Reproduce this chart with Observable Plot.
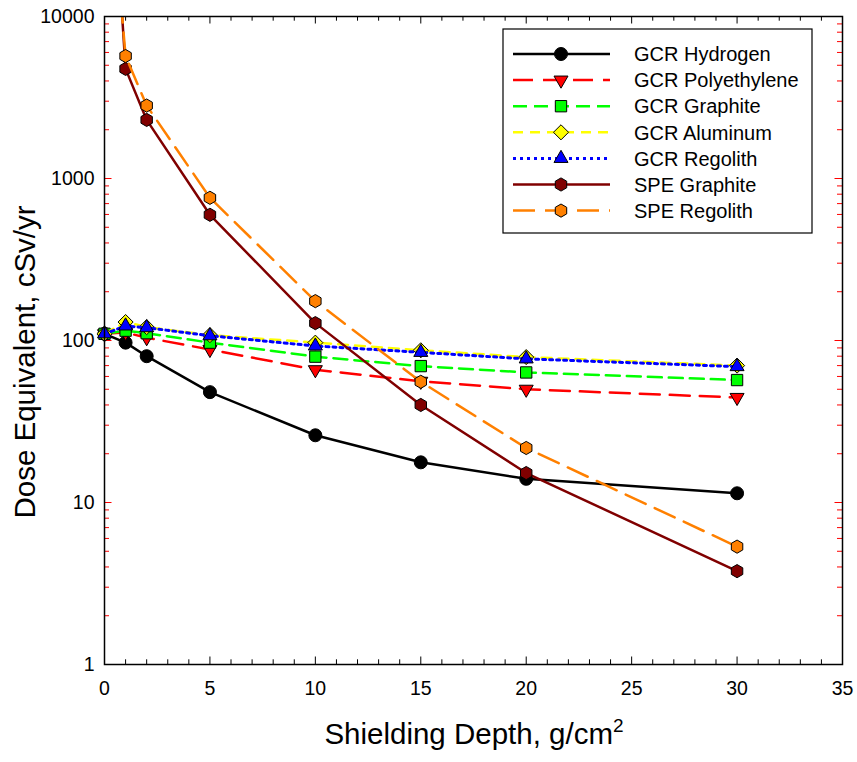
<!DOCTYPE html>
<html>
<head>
<meta charset="utf-8">
<script src="https://cdn.jsdelivr.net/npm/d3@7"></script>
<script src="https://cdn.jsdelivr.net/npm/@observablehq/plot@0.6"></script>
<style>
  html, body { margin: 0; padding: 0; background: white; }
  #chart { width: 857px; height: 762px; }
</style>
</head>
<body>
<div id="chart"></div>
<script>
// ---- data ----
const depths = [0, 1, 2, 5, 10, 15, 20, 30];
const gcrHydrogen     = [110, 97, 80, 48, 26, 17.7, 14, 11.4];
const gcrPolyethylene = [110, 112, 104, 88, 66, 56, 50, 44.5];
const gcrGraphite     = [110, 115, 111, 97, 79.5, 69.5, 63.5, 57];
const gcrAluminum     = [110, 130, 121, 108, 97, 87, 79, 70];
const gcrRegolith     = [110, 123, 120, 107, 92.5, 84.5, 77, 69];
const speGraphite     = [480000, 4750, 2300, 597, 128, 40, 15.2, 3.77];
const speRegolith     = [190000, 5700, 2820, 760, 175, 55.6, 21.7, 5.34];

const seriesNames = ["GCR Hydrogen", "GCR Polyethylene", "GCR Graphite", "GCR Aluminum", "GCR Regolith", "SPE Graphite", "SPE Regolith"];
const seriesValues = [gcrHydrogen, gcrPolyethylene, gcrGraphite, gcrAluminum, gcrRegolith, speGraphite, speRegolith];

const xLabels = [0, 5, 10, 15, 20, 25, 30, 35];
const yLabels = [1, 10, 100, 1000, 10000];

// ---- styles ----
const hexagon = {
  draw(ctx, size) {
    const R = Math.sqrt(size * 2 / (3 * Math.sqrt(3)));
    for (let k = 0; k < 6; k++) {
      const a = -Math.PI / 2 + k * Math.PI / 3;
      const px = R * Math.cos(a), py = R * Math.sin(a);
      if (k === 0) ctx.moveTo(px, py); else ctx.lineTo(px, py);
    }
    ctx.closePath();
  }
};
const styles = [
  {stroke: "#000000", dash: null,    width: 2.5, symbol: d3.symbolCircle,   fill: "#000000", r: 6.5, rotate: 0},
  {stroke: "#ff0000", dash: "20,10", width: 2.5, symbol: d3.symbolTriangle, fill: "#ff0000", r: 5.2, rotate: 180},
  {stroke: "#00ff00", dash: "14,7",  width: 2.5, symbol: d3.symbolSquare,   fill: "#00ff00", r: 6.4, rotate: 0},
  {stroke: "#ffff00", dash: "10,7",  width: 2.5, symbol: d3.symbolDiamond2, fill: "#ffff00", r: 6.8, rotate: 0},
  {stroke: "#0000ff", dash: "3,4",   width: 3,   symbol: d3.symbolTriangle, fill: "#0000ff", r: 5.2, rotate: 0},
  {stroke: "#800000", dash: null,    width: 2.5, symbol: hexagon,           fill: "#800000", r: 6.0, rotate: 0},
  {stroke: "#ff8000", dash: "22,10", width: 2.5, symbol: hexagon,           fill: "#ff8000", r: 6.0, rotate: 0}
];

const W = 857, H = 762;
const mL = 104, mR = 15, mT = 16, mB = 98;
const pw = W - mL - mR, ph = H - mT - mB;

const rows = [];
seriesNames.forEach((name, i) => {
  depths.forEach((d, j) => rows.push({series: name, depth: d, value: seriesValues[i][j]}));
});

const xMinor = d3.range(0, 36, 1).filter(v => v % 5 !== 0);
const yMinor = [];
for (const dec of [1, 10, 100, 1000]) for (let m = 2; m <= 9; m++) yMinor.push(dec * m);

const seriesMarks = [];
seriesNames.forEach((name, i) => {
  const s = styles[i];
  const data = rows.filter(r => r.series === name);
  seriesMarks.push(Plot.line(data, {
    x: "depth", y: "value", stroke: s.stroke, strokeWidth: s.width,
    strokeDasharray: s.dash || undefined, clip: true
  }));
  seriesMarks.push(Plot.dot(data.filter(r => r.value <= 10000), {
    x: "depth", y: "value", symbol: s.symbol, r: s.r, fill: s.fill,
    stroke: "black", strokeWidth: 1, rotate: s.rotate
  }));
});

function overlay() {
  const g = d3.create("svg:g").attr("text-anchor", "start")
    .attr("font-family", "'Liberation Sans', Arial, sans-serif");
  // axis titles
  g.append("text")
    .attr("transform", "translate(35,362) rotate(-90)")
    .attr("text-anchor", "middle")
    .attr("font-size", 29.5)
    .attr("fill", "black")
    .text("Dose Equivalent, cSv/yr");
  const xt = g.append("text")
    .attr("x", 474).attr("y", 744)
    .attr("text-anchor", "middle")
    .attr("font-size", 29.5)
    .attr("fill", "black");
  xt.append("tspan").text("Shielding Depth, g/cm");
  xt.append("tspan").attr("font-size", 19).attr("dy", -12).text("2");

  // legend
  const lx = 503, ly = 29, lw = 309, lh = 204;
  g.append("rect").attr("x", lx).attr("y", ly).attr("width", lw).attr("height", lh)
    .attr("fill", "white").attr("stroke", "black").attr("stroke-width", 1.2);
  seriesNames.forEach((name, i) => {
    const s = styles[i];
    const cy = 54 + i * 26.1;
    g.append("line").attr("x1", 513).attr("x2", 610).attr("y1", cy).attr("y2", cy)
      .attr("stroke", s.stroke).attr("stroke-width", s.width)
      .attr("stroke-dasharray", s.dash);
    const path = d3.symbol(s.symbol, Math.PI * s.r * s.r)();
    g.append("path").attr("d", path)
      .attr("transform", `translate(561,${cy}) rotate(${s.rotate})`)
      .attr("fill", s.fill).attr("stroke", "black").attr("stroke-width", 1);
    g.append("text").attr("x", 634).attr("y", cy).attr("dy", "0.36em")
      .attr("text-anchor", "start")
      .attr("font-size", 20).attr("fill", "black").text(name);
  });
  return g.node();
}

const chart = Plot.plot({
  width: W, height: H,
  marginLeft: mL, marginRight: mR, marginTop: mT, marginBottom: mB,
  x: {type: "linear", domain: [0, 35], axis: null},
  y: {type: "log", domain: [1, 10000], axis: null},
  style: {fontFamily: "'Liberation Sans', Arial, sans-serif", fontSize: "19.5px", color: "black", background: "white", overflow: "visible"},
  marks: [
    // ticks x bottom/top
    Plot.tickX(xMinor, {x: d => d, insetTop: ph - 4.7, stroke: "black", strokeWidth: 1}),
    Plot.tickX(xLabels, {x: d => d, insetTop: ph - 7.5, stroke: "black", strokeWidth: 1}),
    Plot.tickX(xMinor, {x: d => d, insetBottom: ph - 4.7, stroke: "black", strokeWidth: 1}),
    Plot.tickX(xLabels, {x: d => d, insetBottom: ph - 7.5, stroke: "black", strokeWidth: 1}),
    // ticks y left/right (red)
    Plot.tickY(yMinor, {y: d => d, insetRight: pw - 5, stroke: "red", strokeWidth: 1}),
    Plot.tickY(yLabels, {y: d => d, insetRight: pw - 7.5, stroke: "red", strokeWidth: 1}),
    Plot.tickY(yMinor, {y: d => d, insetLeft: pw - 5, stroke: "red", strokeWidth: 1}),
    Plot.tickY(yLabels, {y: d => d, insetLeft: pw - 7.5, stroke: "red", strokeWidth: 1}),
    // tick labels
    Plot.text(xLabels, {x: d => d, frameAnchor: "bottom", lineAnchor: "top", dy: 17, text: d => String(d), fontSize: 19.5, fill: "black"}),
    Plot.text(yLabels, {y: d => d, frameAnchor: "left", textAnchor: "end", dx: -10, text: d => String(d), fontSize: 19.5, fill: "black"}),
    ...seriesMarks,
    Plot.frame({stroke: "black", strokeWidth: 1.5}),
    overlay
  ]
});
document.getElementById("chart").appendChild(chart);
</script>
</body>
</html>
